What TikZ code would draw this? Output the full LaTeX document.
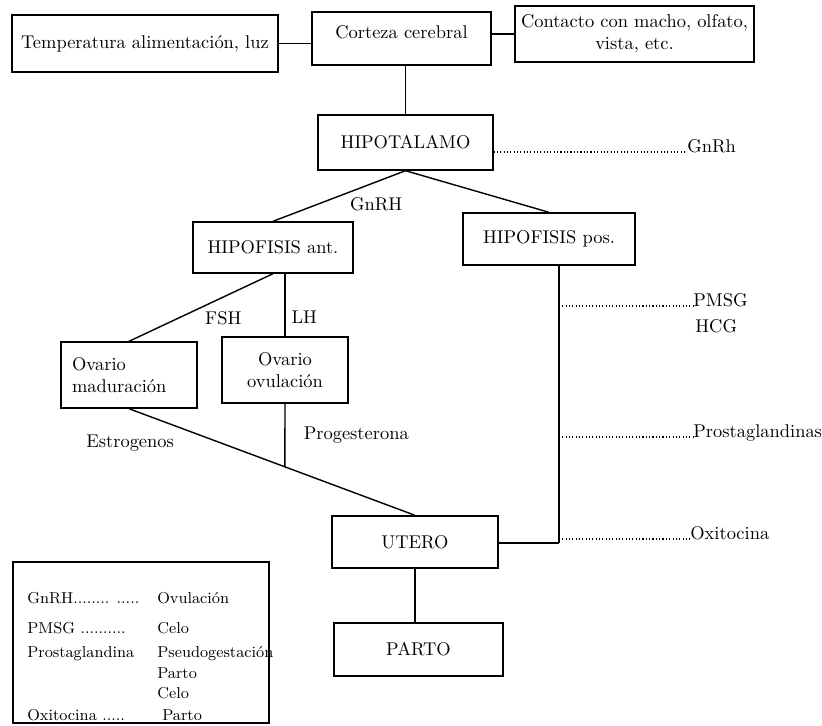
\documentclass[tikz,border=0pt]{standalone}
\usetikzlibrary{positioning}
\tikzset{punteado/.style={line width=0.6pt, dash pattern=on 0.6pt off 1.3pt}}
\begin{document}
\begin{tikzpicture}[x=0.02cm,y=-0.02cm,font=\fontsize{10.5}{12.6}\selectfont]
            \useasboundingbox (0,0) rectangle (822,725);
            \begin{scope}[every node/.style={draw, line width=0.8pt, inner sep=2pt}]

                \node[minimum width=5.32cm, minimum height=1.14cm] (temp) at (145,43.5) {Temperatura alimentación, luz};
                \node[minimum width=3.58cm, minimum height=1.06cm, text height=7pt, text depth=7pt] (corteza) at (401.5,38.5) {Corteza cerebral};
                \node[minimum width=4.78cm, minimum height=1.12cm, align=center] (contacto) at (634.5,34) {Contacto con macho, olfato,\\vista, etc.};
                \node[minimum width=3.5cm, minimum height=1.1cm] (hipot) at (405.5,142.5) {HIPOTALAMO};
                \node[minimum width=3.2cm, minimum height=1.02cm] (hant) at (273,247.5) {HIPOFISIS ant.};
                \node[minimum width=3.44cm, minimum height=1.04cm] (hpos) at (549,239) {HIPOFISIS pos.};
                \node[inner xsep=0.22cm, text width=2.28cm, minimum height=1.32cm, align=left] (ovmad) at (129,375) {Ovario\\maduración};
                \node[minimum width=2.52cm, minimum height=1.32cm, align=center] (ovovu) at (285,370) {Ovario\\ovulación};
                \node[minimum width=3.32cm, minimum height=1.04cm] (utero) at (415,542) {UTERO};
                \node[minimum width=3.38cm, minimum height=1.06cm] (parto) at (418.5,649.5) {PARTO};
                \node[minimum width=5.12cm, minimum height=3.22cm] (leyenda) at (141,642.5) {};

            \end{scope}

            % etiquetas de hormonas a la derecha
            \node[anchor=base west, inner sep=0pt] (lgnrh) at (687,152) {GnRh};
            \node[anchor=base west, inner sep=0pt] (lpmsg) at (693,306) {PMSG};
            \node[anchor=base west, inner sep=0pt] (lhcg) at (695,332) {HCG};
            \node[anchor=base west, inner sep=0pt] (lprost) at (693,437) {Prostaglandinas};
            \node[anchor=base west, inner sep=0pt] (loxi) at (690,539) {Oxitocina};

            \coordinate (esquina) at (559,543);
            \path (ovmad.south) -- coordinate[pos=0.545] (cruce) (utero.north);

            \path[thick] (temp.east) edge (temp.east -| corteza.west);
            \path[thick] (contacto.west) edge (contacto.west -| corteza.east);
            \path[thick] (hipot.north) edge (hipot.north |- corteza.south);
            \path[thick] (hipot.south) edge node[pos=0.45, anchor=north west, inner sep=2pt] {GnRH} (hant.north);
            \path[thick] (hipot.south) edge (hpos.north);
            \path[thick] (hant.south) edge node[pos=0.5, anchor=north west, inner sep=2pt] {FSH} (ovmad.north);
            \path[thick] (hant.south -| ovovu.north) edge node[pos=0.7, anchor=west] {LH} (ovovu.north);
            \path[thick] (ovmad.south) edge node[pos=0.18, anchor=north east] {Estrogenos} (utero.north);
            \path[thick] (ovovu.south) edge node[pos=0.5, right=7pt] {Progesterona} (cruce);
            \path[thick] (esquina -| utero.east) edge (esquina);
            \path[thick] (esquina) edge (esquina |- hpos.south);
            \path[thick] (utero.south) edge (utero.south |- parto.north);

            \path[punteado] (lgnrh.base west -| hipot.east) edge (lgnrh.base west);
            \path[punteado] (lpmsg.base west -| esquina) edge (lpmsg.base west);
            \path[punteado] (lprost.base west -| esquina) edge (lprost.base west);
            \path[punteado] (loxi.base west -| esquina) edge (loxi.base west);

            % leyenda
            \begin{scope}[every node/.style={anchor=base west, inner sep=0pt, font=\fontsize{9}{11}\selectfont}]
                \node (lg1) at (27,603) {GnRH........ .....};
                \node (lg2) at (27,633) {PMSG ..........};
                \node (lg3) at (27,657) {Prostaglandina};
                \node (lg4) at (27,720) {Oxitocina .....};
                \node (ld1) at (157,603) {Ovulación};
                \node (ld2) at (157,633) {Celo};
                \node (ld3) at (157,657) {Pseudogestación};
                \node (ld4) at (157,678) {Parto};
                \node (ld5) at (157,698) {Celo};
                \node (ld6) at (162,720) {Parto};
            \end{scope}

        \end{tikzpicture}
\end{document}
